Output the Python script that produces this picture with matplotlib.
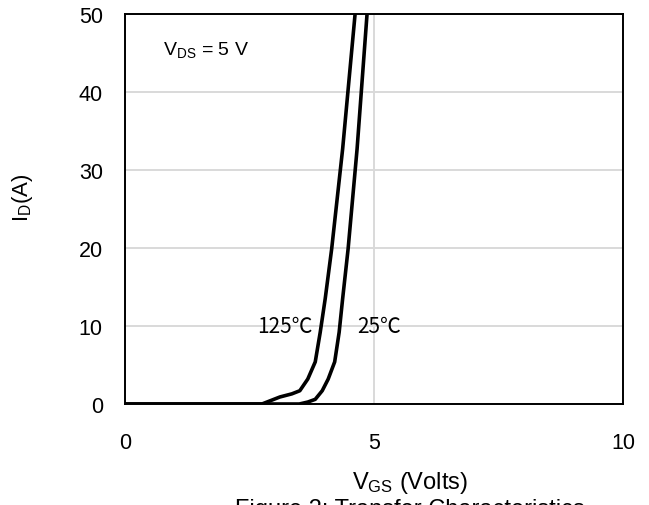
import matplotlib.pyplot as plt
import numpy as np

# 125C curve
vgs_125 = [0, 2.75, 2.91, 3.11, 3.35, 3.51, 3.67, 3.82, 3.92, 4.02, 4.15, 4.37, 4.62]
id_125 = [0, 0, 0.4, 0.9, 1.3, 1.7, 3.2, 5.4, 9.2, 13.5, 19.9, 32.7, 50]

# 25C curve
vgs_25 = [0, 3.5, 3.67, 3.82, 3.96, 4.08, 4.21, 4.30, 4.37, 4.48, 4.66, 4.86]
id_25 = [0, 0, 0.25, 0.6, 1.7, 3.2, 5.4, 9.2, 13.5, 19.9, 32.7, 50]

x_ticks = [0, 5, 10]
y_ticks = [0, 10, 20, 30, 40, 50]

plt.rcParams['font.family'] = ['Liberation Sans', 'DejaVu Sans']
cjk = ['Noto Sans CJK SC', 'DejaVu Sans']

fig = plt.figure(figsize=[6.49, 5.06], dpi=100)
ax = fig.add_axes([0.1926, 0.1996, 0.7674, 0.7708])

ax.plot(vgs_125, id_125, color='black', lw=2.6, solid_joinstyle='round', zorder=3)
ax.plot(vgs_25, id_25, color='black', lw=2.6, solid_joinstyle='round', zorder=3)

ax.set_xlim(0, 10)
ax.set_ylim(0, 50)
ax.set_xticks(x_ticks)
ax.set_yticks(y_ticks)
ax.tick_params(length=0, labelsize=15.5)
ax.tick_params(axis='x', pad=20)
ax.tick_params(axis='y', pad=16)
ax.grid(True, color='#d9d9d9', lw=1.4)
ax.set_axisbelow(True)
for s in ax.spines.values():
    s.set_linewidth(1.4)
    s.set_color('black')

ax.text(0.76, 45.5, '$\\mathregular{V_{DS}}$ = 5 V', fontsize=14, va='center')
ax.text(2.65, 10, '125℃', fontsize=15, va='center', family=cjk)
ax.text(4.66, 10, '25℃', fontsize=15, va='center', family=cjk)

fig.text(0.034, 0.609, '$\\mathregular{I_D}$(A)', fontsize=16, rotation=90,
         ha='center', va='center')
fig.text(0.632, 0.0455, '$\\mathregular{V_{GS}}$ (Volts)', fontsize=17, ha='center', va='center')
fig.text(0.632, -0.02, 'Figure 2: Transfer Characteristics', fontsize=17, ha='center', va='baseline')

plt.savefig('out.png', dpi=100)
